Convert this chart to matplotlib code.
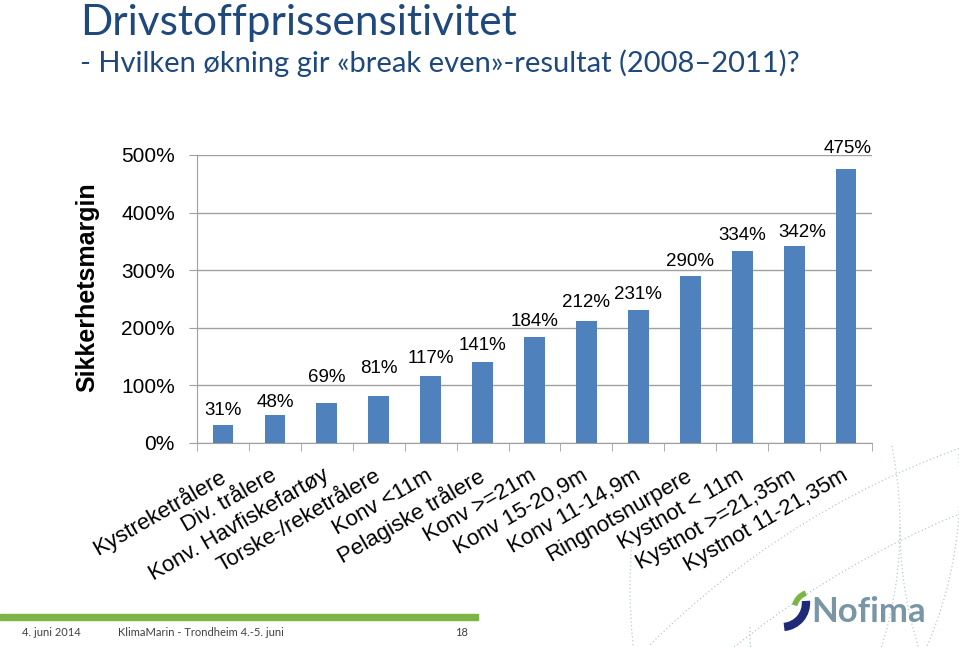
import matplotlib
matplotlib.use("Agg")
import matplotlib.pyplot as plt
from matplotlib.patches import Arc, Rectangle
from matplotlib.transforms import ScaledTranslation
import numpy as np

# data
categories = ["Kystreketrålere", "Div. trålere", "Konv. Havfiskefartøy",
              "Torske-/reketrålere", "Konv <11m", "Pelagiske trålere",
              "Konv >=21m", "Konv 15-20,9m", "Konv 11-14,9m",
              "Ringnotsnurpere", "Kystnot < 11m", "Kystnot >=21,35m",
              "Kystnot 11-21,35m"]
margin_pct = [31, 48, 69, 81, 117, 141, 184, 212, 231, 290, 334, 342, 475]
y_ticks = [0, 100, 200, 300, 400, 500]

# label placement (pixels above bar top / sideways), as in the slide
label_dy = [15, 13, 26, 28, 17, 16, 16, 18, 15, 14, 15, 14, 21]
label_dx = [0, 0, 0, 0, 0, 0, 0, 0, 0, 0, 0, 8, 2]

W, H = 959, 647
fig = plt.figure(figsize=(W / 100, H / 100), dpi=100)
fig.patch.set_facecolor("white")

# decorative dotted arcs in the background
arc_kw = dict(color="#b9c9cc", lw=0.9, ls=(0, (1, 2)), transform=None)
fig.add_artist(Arc((1180, 60), 1100, 1100, theta1=175, theta2=260, **arc_kw))
fig.add_artist(Arc((1250, 20), 1000, 1000, theta1=180, theta2=250, **arc_kw))
fig.add_artist(Arc((1300, -700), 1800, 1800, theta1=105, theta2=135, **arc_kw))
fig.add_artist(Arc((1250, -600), 1700, 1700, theta1=108, theta2=135, **arc_kw))
fig.add_artist(Arc((500, 120), 800, 800, theta1=-25, theta2=12, **arc_kw))
fig.add_artist(Arc((560, 160), 800, 800, theta1=-25, theta2=5, **arc_kw))
fig.add_artist(Arc((1300, 120), 800, 800, theta1=180, theta2=205, **arc_kw))

ax = fig.add_axes([197 / W, 1 - 443 / H, 675 / W, 288 / H])
x = np.arange(len(categories))
bars = ax.bar(x, margin_pct, width=0.4, color="#4F81BD", zorder=3)

ax.set_xlim(-0.5, len(categories) - 0.5)
ax.set_ylim(0, 500)
ax.set_yticks(y_ticks)
ax.set_yticklabels([f"{v}%" for v in y_ticks], fontsize=15,
                   family="Liberation Sans")
ax.yaxis.grid(True, color="#a0a0a0", lw=1, zorder=0)
ax.tick_params(axis="y", length=6, color="#a0a0a0", pad=10)

ax.set_xticks(x)
ax.set_xticks(np.arange(-0.5, len(categories)), minor=True)
ax.tick_params(axis="x", which="major", length=0, pad=16)
ax.tick_params(axis="x", which="minor", length=6, color="#a0a0a0")
ax.set_xticklabels(categories, rotation=30, ha="right", va="top",
                   rotation_mode="anchor", fontsize=16,
                   family="Liberation Sans")
shift = ScaledTranslation(-5 / 100, 0, fig.dpi_scale_trans)
for lbl in ax.get_xticklabels():
    lbl.set_transform(lbl.get_transform() + shift)

for s in ["top", "right"]:
    ax.spines[s].set_visible(False)
for s in ["left", "bottom"]:
    ax.spines[s].set_color("#a0a0a0")

for b, v, dy, dx in zip(bars, margin_pct, label_dy, label_dx):
    ax.annotate(f"{v}%", (b.get_x() + b.get_width() / 2, v),
                xytext=(dx, dy), textcoords="offset pixels",
                ha="center", va="center", fontsize=13.5,
                family="Liberation Sans")

fig.text(87 / W, 1 - 287 / H, "Sikkerhetsmargin", rotation=90,
         ha="center", va="center", fontsize=18, fontweight="bold",
         family="Liberation Sans")

# title
fig.text(80 / W, 1 - 35 / H, "Drivstoffprissensitivitet", fontsize=30.5,
         color="#1F497D", family="Lato", va="baseline")
fig.text(80 / W, 1 - 72 / H,
         "- Hvilken økning gir «break even»-resultat (2008–2011)?",
         fontsize=21, color="#1F497D", family="Lato", va="baseline")

# footer
fig.add_artist(Rectangle((0, 1 - 620 / H), 478 / W, 6 / H,
                         transform=fig.transFigure, color="#7DB544"))
foot_kw = dict(fontsize=8, color="#404040", family="Lato", va="center")
fig.text(22 / W, 1 - 633 / H, "4. juni 2014", **foot_kw)
fig.text(118 / W, 1 - 633 / H, "KlimaMarin - Trondheim 4.-5. juni", **foot_kw)
fig.text(455 / W, 1 - 633 / H, "18", **foot_kw)

# logo
fig.add_artist(Arc((782, 44), 48, 48, theta1=-85, theta2=5,
                   color="#1E2A78", lw=6, transform=None))
fig.add_artist(Arc((812, 37), 36, 36, theta1=110, theta2=165,
                   color="#7DB544", lw=4, transform=None))
fig.text(811 / W, 1 - 612 / H, "Nofima", fontsize=25, fontweight="bold",
         color="#7896A5", family="Lato", va="center")

fig.savefig("out.png", dpi=100)
